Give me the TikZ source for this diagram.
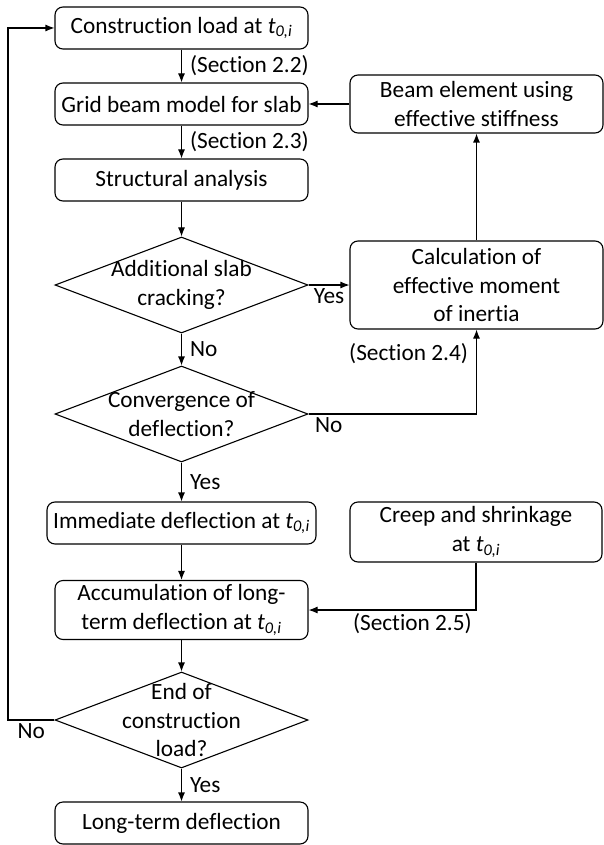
\documentclass[tikz,border=0pt]{standalone}
\usepackage{fontspec}
\setmainfont[Ligatures=NoCommon]{Carlito}
\usetikzlibrary{arrows.meta,shapes}
\newcommand{\tzi}{\textit{t}\textsubscript{\textit{0,i}}}

\begin{document}
\begin{tikzpicture}[x=1pt, y=1pt, line width=1.1pt, node distance=76pt, auto, font=\fontsize{23.3}{28.5}\selectfont]

\tikzstyle{decision} = [diamond, draw, minimum width=253pt, minimum height=96pt, inner sep=0pt]
\tikzstyle{block} = [rectangle, draw, rounded corners=8pt, minimum width=253pt,
    minimum height=42pt, align=center, inner ysep=1pt]
\tikzstyle{line} = [draw, -{Latex[length=9pt,width=7pt]}]
\tikzstyle{tag} = [inner xsep=8pt]

    \path [use as bounding box] (0,0) rectangle (603,-845);

    % Place nodes
    \node [block] (load) at (181.5,-28) {Construction load at \tzi};
    \node [block, below of=load] (grid) {Grid beam model for slab};
    \node [block, below of=grid] (analysis) {Structural analysis};
    \node [decision, below of=analysis, node distance=105pt,
        label={[align=center]center:Additional slab\\cracking?}] (crack) {};
    \node [decision, below of=crack, node distance=129pt,
        label={[align=center]center:Convergence of\\deflection?}] (conv) {};
    \node [block, below of=conv, node distance=109pt, minimum width=269pt] (immediate) {Immediate deflection at \tzi};
    \node [block, below of=immediate, node distance=87pt, minimum height=59pt] (accum) {Accumulation of long-\\term deflection at \tzi};
    \node [decision, below of=accum, node distance=110pt,
        label={[align=center]center:End of\\construction\\load?}] (endload) {};
    \node [block, below of=endload, node distance=103pt] (longterm) {Long-term deflection};
    \node [block, right of=grid, node distance=295pt, minimum height=58pt] (beam) {Beam element using\\effective stiffness};
    \node [block, right of=crack, node distance=295pt, minimum height=88pt] (calc) {Calculation of\\effective moment\\of inertia};
    \node [block, minimum height=60pt, minimum width=252pt] (creep) at (476,-532) {Creep and shrinkage\\at \tzi};
    \coordinate [left of=endload, node distance=173.5pt] (back);
    % Draw edges
    \path [line] (load) -- node[tag] {(Section 2.2)} (grid);
    \path [line] (grid) -- node[tag] {(Section 2.3)} (analysis);
    \path [line] (analysis) -- (crack);
    \path [line] (crack) -- node[tag] {No} (conv);
    \path [line] (crack) -- node[below] {Yes} (calc);
    \path [line] (calc) -- (beam);
    \path [line] (beam) -- (grid);
    \path [line] (conv.east) -| node[below, pos=0.06] {No} node[tag, left, pos=0.86] {(Section 2.4)} (calc.south);
    \path [line] (conv) -- node[tag] {Yes} (immediate);
    \path [line] (immediate) -- (accum);
    \path [line] (creep) |- node[below, pos=0.69] {(Section 2.5)} (accum);
    \path [line] (accum) -- (endload);
    \path [line] (endload) -- node[tag] {Yes} (longterm);
    \path [line] (endload) -- node[below] {No} (back) |- (load);
\end{tikzpicture}
\end{document}
